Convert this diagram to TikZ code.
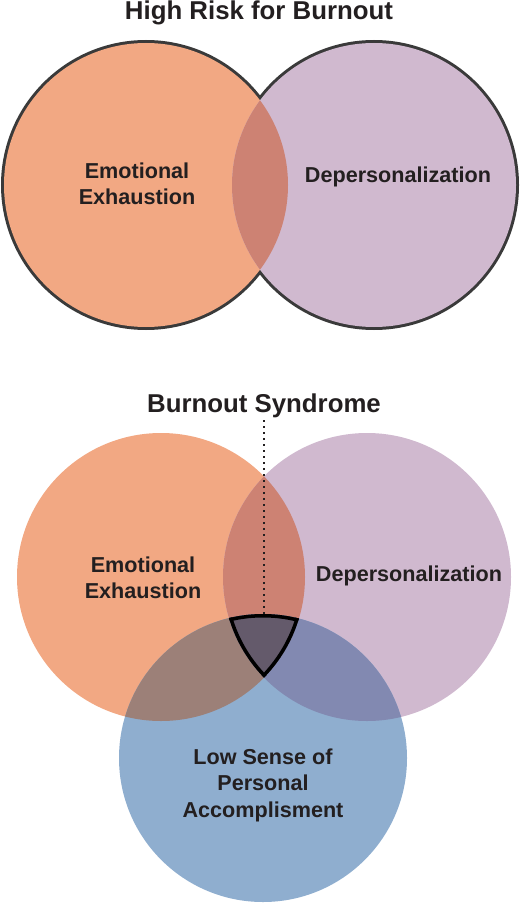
\documentclass[tikz,border=0pt]{standalone}
\usepackage{fontspec}
\setmainfont{Liberation Sans}
\usetikzlibrary{positioning}

\definecolor{ink}{HTML}{231F20}
\definecolor{edge}{HTML}{3A3A3A}
\definecolor{exhaust}{HTML}{F2A883}
\definecolor{depers}{HTML}{D0B9CF}
\definecolor{accomp}{HTML}{8FAECF}
\definecolor{exdep}{HTML}{CD8273}
\definecolor{exacc}{HTML}{9C8078}
\definecolor{depacc}{HTML}{8289B1}
\definecolor{core}{HTML}{645A6B}

\begin{document}
\begin{tikzpicture}[
    x=1pt, y=1pt,
    heading/.style={font=\fontsize{25.8}{30}\selectfont\bfseries, text=ink, anchor=base},
    label/.style={font=\fontsize{21.6}{26.5}\selectfont\bfseries, text=ink, align=center},
    ring/.style={line width=6pt, draw=edge}
]
    \useasboundingbox (0,0) rectangle (520,-904);

    % high risk
    \coordinate (ee1) at (146,-185);
    \coordinate (dp1) at (374,-185);
    \draw[ring] (ee1) circle (142);
    \draw[ring] (dp1) circle (142);
    \fill[exhaust] (ee1) circle (142);
    \fill[depers] (dp1) circle (142);
    \begin{scope}
        \clip (ee1) circle (142);
        \fill[exdep] (dp1) circle (142);
    \end{scope}
    \node[heading] (risk) at (259,-20) {High Risk for Burnout};
    \node[label] (eetext1) at (137,-184) {Emotional\\Exhaustion};
    \node[label] (dptext1) at (398,-177) {Depersonalization};

    % burnout syndrome
    \coordinate (ee2) at (161,-577);
    \coordinate (dp2) at (367,-577);
    \coordinate (ls2) at (263,-758);
    \fill[exhaust] (ee2) circle (144);
    \fill[depers] (dp2) circle (144);
    \fill[accomp] (ls2) circle (144);
    \begin{scope}
        \clip (ee2) circle (144);
        \fill[exdep] (dp2) circle (144);
        \fill[exacc] (ls2) circle (144);
    \end{scope}
    \begin{scope}
        \clip (dp2) circle (144);
        \fill[depacc] (ls2) circle (144);
    \end{scope}
    \begin{scope}
        \clip (ee2) circle (144);
        \clip (dp2) circle (144);
        \clip (ls2) circle (144);
        \fill[core] (ls2) circle (144);
        \draw[line width=7pt, black] (ee2) circle (144);
        \draw[line width=7pt, black] (dp2) circle (144);
        \draw[line width=7pt, black] (ls2) circle (144);
    \end{scope}
    \node[heading] (syndrome) at (264,-412) {Burnout Syndrome};
    \coordinate (coretop) at (264,-615);
    \draw[line width=1.5pt, ink, dash pattern=on 1.5pt off 4.5pt] ([yshift=-8pt]syndrome.base) -- (coretop);
    \node[label] (eetext2) at (143,-578) {Emotional\\Exhaustion};
    \node[label] (dptext2) at (409,-576) {Depersonalization};
    \node[label] (lstext2) at (263,-785) {Low Sense of\\Personal\\Accomplisment};
\end{tikzpicture}
\end{document}
